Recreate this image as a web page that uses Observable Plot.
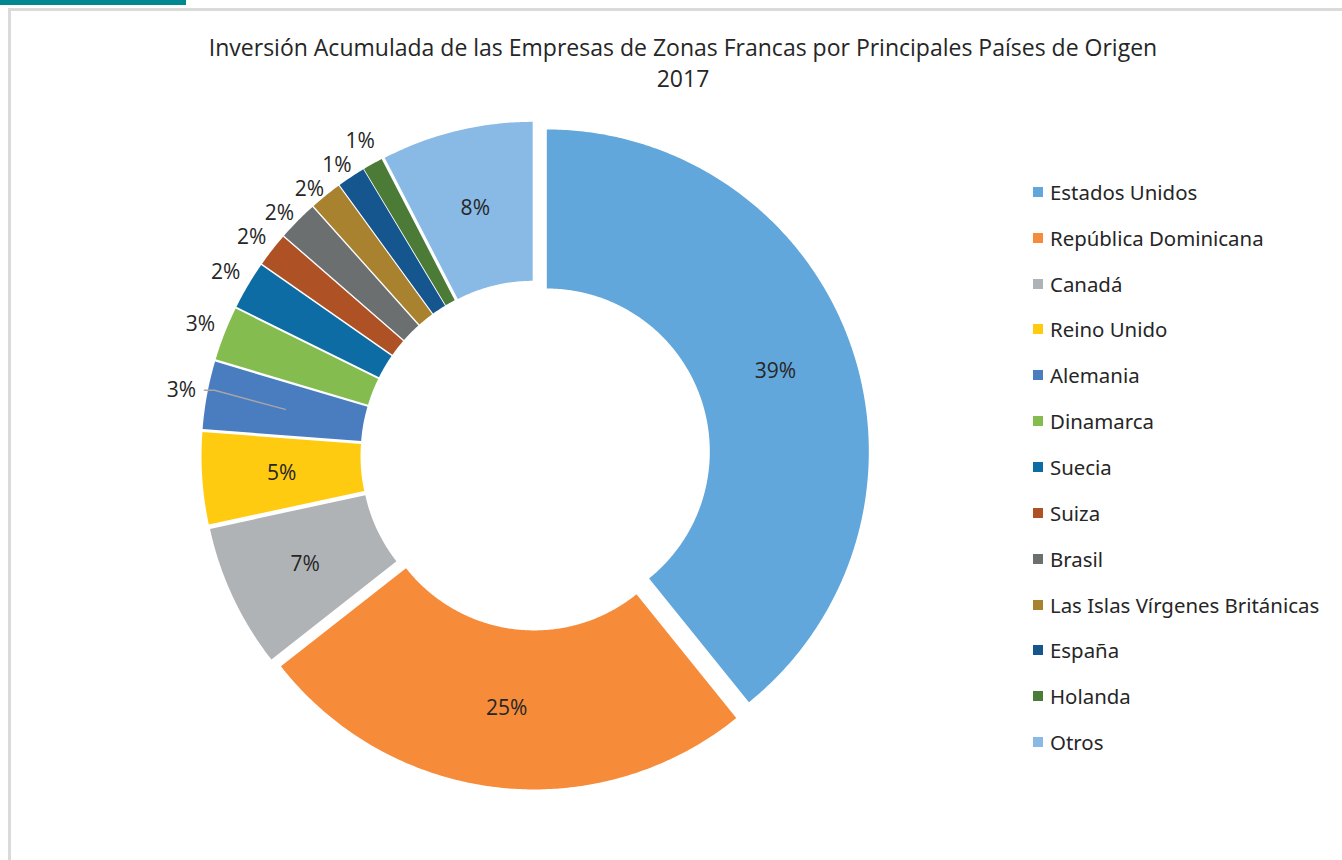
<!DOCTYPE html>
<html>
<head>
<meta charset="utf-8">
<script src="https://cdn.jsdelivr.net/npm/d3@7"></script>
<script src="https://cdn.jsdelivr.net/npm/@observablehq/plot@0.6"></script>
<style>
html, body { margin: 0; padding: 0; width: 1342px; height: 860px; overflow: hidden; background: #fff; }
body { font-family: "Open Sans", sans-serif; color: #262626; position: relative; }
#bar { position: absolute; left: 0; top: 0; width: 186px; height: 5px; background: #00878f; }
#frame { position: absolute; left: 8px; top: 8px; width: 1500px; height: 1000px; border-left: 3px solid #dadada; border-top: 3px solid #dadada; }
#title { position: absolute; left: 0; top: 32px; width: 1366px; text-align: center; font-size: 23px; line-height: 31px; color: #262626; }
#chart { position: absolute; left: 0; top: 100px; }
#legend { position: absolute; left: 1033px; top: 169px; font-family: "Open Sans", sans-serif; font-size: 20.4px; color: #262626; }
#legend .lg-swatches { display: flex !important; flex-direction: column !important; align-items: flex-start !important; min-height: 0 !important; margin: 0 !important; columns: auto !important; }
#legend .lg-swatch { display: flex !important; align-items: center !important; height: 45.85px !important; margin: 0 !important; padding: 0 !important; font-size: 20.4px; }
#legend .lg-swatch svg { margin-right: 7px !important; flex-shrink: 0; }
</style>
</head>
<body>
<div id="bar"></div>
<div id="frame"></div>
<div id="title"></div>
<div id="chart"></div>
<div id="legend"></div>
<script>
// ---- data ----
const titleLines = ["Inversión Acumulada de las Empresas de Zonas Francas por Principales Países de Origen", "2017"];
const categories = ["Estados Unidos", "República Dominicana", "Canadá", "Reino Unido", "Alemania", "Dinamarca", "Suecia", "Suiza", "Brasil", "Las Islas Vírgenes Británicas", "España", "Holanda", "Otros"];
const shares = [39.2, 25.2, 7.2, 4.6, 3.4, 2.7, 2.4, 1.7, 2.0, 1.6, 1.4, 1.0, 7.6];
const colors = ["#62a7db", "#f68b3a", "#b0b3b6", "#ffcb10", "#4a7cc0", "#84bc50", "#0e6ca4", "#ae5225", "#6b6f70", "#a98230", "#15568f", "#4c7a37", "#88bae5"];
const leaderFor = ["Alemania"];

// ---- geometry ----
const R = 322, r = 163, explode = 12, labelR = 360, labelGap = 24, insideMin = 4;

document.getElementById("title").innerHTML = titleLines.join("<br>");

const rows = categories.map((name, i) => ({name, share: shares[i], label: Math.round(shares[i]) + "%"}));
const arcs = d3.pie().sort(null).value(d => d.share)(rows);

const slicePts = [];
const insideLabels = [];
const outsideLabels = [];
for (const a of arcs) {
  const name = a.data.name;
  const m = (a.startAngle + a.endAngle) / 2;
  const ox = explode * Math.sin(m), oy = explode * Math.cos(m);
  const n = Math.max(6, Math.ceil((a.endAngle - a.startAngle) / (Math.PI / 360)));
  const ring = [];
  for (let k = 0; k <= n; k++) {
    const t = a.startAngle + (a.endAngle - a.startAngle) * k / n;
    ring.push({name, x: ox + R * Math.sin(t), y: oy + R * Math.cos(t)});
  }
  for (let k = n; k >= 0; k--) {
    const t = a.startAngle + (a.endAngle - a.startAngle) * k / n;
    ring.push({name, x: ox + r * Math.sin(t), y: oy + r * Math.cos(t)});
  }
  ring.push(ring[0]);
  slicePts.push(...ring);
  const cr = (R + r) / 2;
  const centroid = {x: ox + cr * Math.sin(m), y: oy + cr * Math.cos(m)};
  if (a.data.share >= insideMin) {
    insideLabels.push({name, text: a.data.label, ...centroid});
  } else {
    outsideLabels.push({name, text: a.data.label, x: labelR * Math.sin(m), y: labelR * Math.cos(m), centroid});
  }
}
// push overlapping outside labels downward (y up coordinates)
outsideLabels.sort((p, q) => q.y - p.y);
for (let i = 1; i < outsideLabels.length; i++) {
  const prev = outsideLabels[i - 1];
  if (outsideLabels[i].y > prev.y - labelGap) outsideLabels[i].y = prev.y - labelGap;
}
const leaderPts = [];
for (const l of outsideLabels) {
  if (leaderFor.includes(l.name)) {
    leaderPts.push({name: l.name, x: l.x + 23, y: l.y});
    leaderPts.push({name: l.name, x: l.x + 33, y: l.y});
    leaderPts.push({name: l.name, x: l.centroid.x, y: l.centroid.y});
  }
}

const chart = Plot.plot({
  width: 1000,
  height: 740,
  margin: 0,
  x: {domain: [-535, 465], axis: null},
  y: {domain: [-385, 355], axis: null},
  color: {domain: categories, range: colors, type: "ordinal"},
  style: {fontFamily: "Open Sans, sans-serif", background: "transparent", overflow: "visible"},
  marks: [
    Plot.line(slicePts, {x: "x", y: "y", z: "name", fill: "name", stroke: null, curve: "linear"}),
    Plot.line(leaderPts, {x: "x", y: "y", z: "name", stroke: "#a6a6a6", strokeWidth: 1.5}),
    Plot.text(insideLabels, {x: "x", y: "y", text: "text", fontSize: 21, fill: "#262626"}),
    Plot.text(outsideLabels, {x: "x", y: "y", text: "text", fontSize: 21, fill: "#262626"})
  ]
});
document.getElementById("chart").appendChild(chart);

const legend = Plot.legend({
  color: {domain: categories, range: colors, type: "ordinal"},
  legend: "swatches",
  swatchSize: 10,
  className: "lg"
});
document.getElementById("legend").appendChild(legend);
</script>
</body>
</html>
